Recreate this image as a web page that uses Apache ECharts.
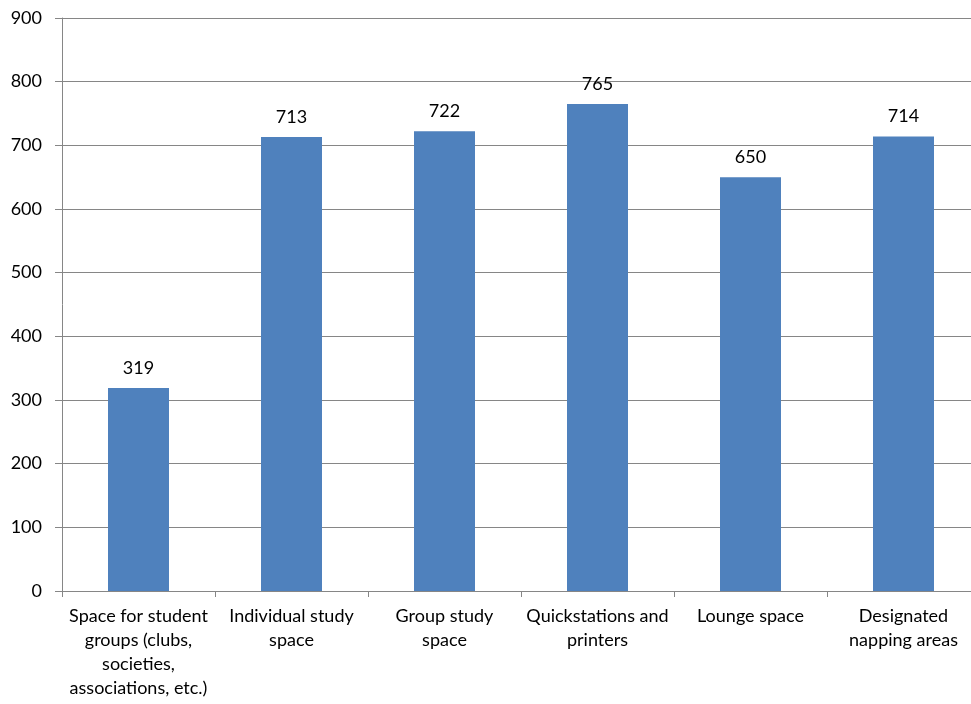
<!DOCTYPE html>
<html>
<head>
<meta charset="utf-8">
<script src="https://cdn.jsdelivr.net/npm/echarts@6/dist/echarts.min.js"></script>
<style>
  html, body { margin: 0; padding: 0; background: #fff; }
  #chart { width: 971px; height: 704px; }
</style>
</head>
<body>
<div id="chart"></div>
<script>
// Preferred study-space features: response counts
const categories = [
  'Space for student\ngroups (clubs,\nsocieties,\nassociations, etc.)',
  'Individual study\nspace',
  'Group study\nspace',
  'Quickstations and\nprinters',
  'Lounge space',
  'Designated\nnapping areas'
];
const counts = [319, 713, 722, 765, 650, 714];
const yTicks = { min: 0, max: 900, step: 100 };

const FONT = 'Lato, "Open Sans", "Liberation Sans", sans-serif';
const chart = echarts.init(document.getElementById('chart'), null, { renderer: 'canvas' });

chart.setOption({
  animation: false,
  backgroundColor: '#ffffff',
  textStyle: { fontFamily: FONT },
  // plot area runs slightly past the right edge of the canvas
  grid: { left: 62, width: 918, top: 18, bottom: 113, containLabel: false, outerBoundsMode: 'none' },
  xAxis: {
    type: 'category',
    data: categories,
    axisLine: { show: true, lineStyle: { color: '#868686', width: 1 } },
    axisTick: { show: true, alignWithLabel: false, length: 6, lineStyle: { color: '#868686' } },
    axisLabel: {
      interval: 0,
      margin: 13,
      color: '#000',
      fontSize: 18,
      lineHeight: 24,
      fontFamily: FONT,
      align: 'center'
    },
    splitLine: { show: false }
  },
  yAxis: {
    type: 'value',
    min: yTicks.min,
    max: yTicks.max,
    interval: yTicks.step,
    axisLine: { show: true, lineStyle: { color: '#868686', width: 1 } },
    axisTick: { show: true, length: 7, lineStyle: { color: '#868686' } },
    axisLabel: { margin: 20, color: '#000', fontSize: 18, fontFamily: FONT },
    splitLine: { show: true, lineStyle: { color: '#868686', width: 1 } }
  },
  series: [{
    type: 'bar',
    data: counts,
    barWidth: 61,
    itemStyle: { color: '#4f81bd' },
    label: {
      show: true,
      position: 'top',
      distance: 11,
      color: '#000',
      fontSize: 18,
      fontFamily: FONT
    }
  }]
});
</script>
</body>
</html>
